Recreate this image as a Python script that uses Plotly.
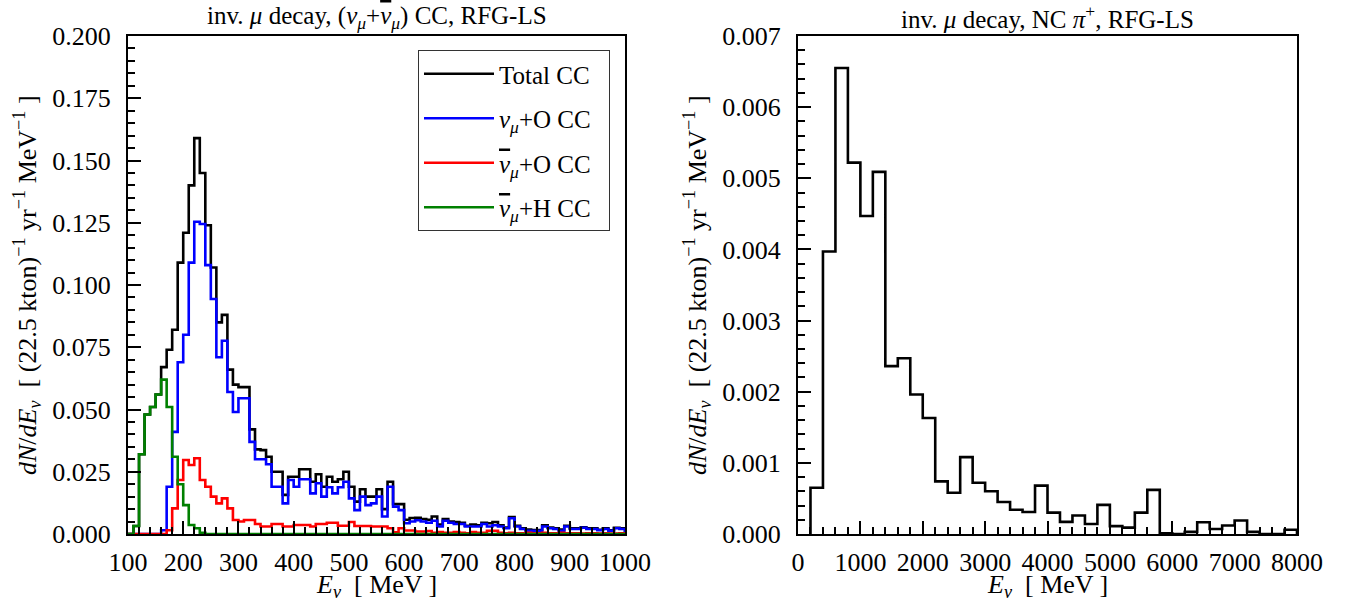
import plotly.graph_objects as go

# ---------------- data: left panel (10 MeV bins, 100-1000 MeV) ----------------
left_lo, left_hi, left_w = 100, 1000, 10

total_cc = [
    0, 0.0032, 0.032, 0.048, 0.051, 0.056, 0.067, 0.074, 0.082, 0.109,
    0.121, 0.140, 0.159, 0.145, 0.124, 0.107, 0.085, 0.088, 0.066, 0.060,
    0.059, 0.059, 0.042, 0.034, 0.0337, 0.031, 0.025, 0.025, 0.0157, 0.023,
    0.023, 0.026, 0.026, 0.021, 0.024, 0.019, 0.023, 0.021, 0.022, 0.025,
    0.019, 0.013, 0.018, 0.015, 0.015, 0.018, 0.010, 0.021, 0.012, 0.012,
    0.0057, 0.0064, 0.0065, 0.006, 0.0057, 0.007, 0.0038, 0.006, 0.005, 0.0048,
    0.0045, 0.0033, 0.0038, 0.0035, 0.0045, 0.0043, 0.0048, 0.0035, 0.0026, 0.0068,
    0.0033, 0.0023, 0.0018, 0.0016, 0.0016, 0.0035, 0.0026, 0.0023, 0.0018, 0.0033,
    0.0023, 0.0023, 0.0027, 0.0023, 0.0023, 0.0017, 0.0023, 0.0015, 0.0025, 0.0023,
]
numu_o = [
    0, 0, 0, 0, 0, 0, 0.0015, 0.019, 0.041, 0.069,
    0.080, 0.109, 0.1254, 0.1245, 0.108, 0.0944, 0.071, 0.0776, 0.057, 0.049,
    0.0545, 0.0545, 0.037, 0.030, 0.030, 0.028, 0.019, 0.019, 0.0123, 0.0217,
    0.019, 0.022, 0.022, 0.0163, 0.0204, 0.015, 0.0188, 0.0163, 0.0188, 0.021,
    0.0143, 0.0096, 0.015, 0.0116, 0.0123, 0.015, 0.007, 0.019, 0.011, 0.0096,
    0.0043, 0.005, 0.0055, 0.005, 0.0045, 0.0053, 0.003, 0.0053, 0.0045, 0.004,
    0.004, 0.003, 0.003, 0.003, 0.004, 0.003, 0.0035, 0.003, 0.0023, 0.0063,
    0.003, 0.002, 0.0013, 0.0013, 0.0013, 0.003, 0.0023, 0.002, 0.0013, 0.003,
    0.002, 0.002, 0.0025, 0.002, 0.002, 0.0015, 0.002, 0.0013, 0.0023, 0.002,
]
numubar_o = [
    0, 0, 0, 0, 0, 0, 0, 0.0015, 0.0103, 0.0217,
    0.0297, 0.0277, 0.0304, 0.0217, 0.019, 0.015, 0.0123, 0.0143, 0.0103, 0.0056,
    0.005, 0.0056, 0.0056, 0.004, 0.003, 0.003, 0.004, 0.004, 0.003, 0.003,
    0.0036, 0.0036, 0.0036, 0.003, 0.004, 0.004, 0.0045, 0.0045, 0.0033, 0.0033,
    0.0048, 0.0032, 0.0032, 0.0032, 0.003, 0.003, 0.003, 0.0023, 0.0007, 0.0023,
    0.0014, 0.0014, 0.001, 0.001, 0.0012, 0.0005, 0.0008, 0.0005, 0.0005, 0.0008,
    0.0005, 0.0003, 0.0008, 0.0005, 0.0005, 0.0013, 0.0013, 0.0005, 0.0003, 0.0005,
    0.0003, 0.0003, 0.0005, 0.0003, 0.0003, 0.0005, 0.0003, 0.0003, 0.0005, 0.0003,
    0.0003, 0.0003, 0.0002, 0.0003, 0.0003, 0.0002, 0.0003, 0.0002, 0.0002, 0.0003,
]
numubar_h = [
    0, 0.0032, 0.032, 0.048, 0.051, 0.056, 0.062, 0.051, 0.031, 0.020,
    0.0116, 0.0036, 0.0023, 0.0005, 0, 0, 0, 0, 0, 0,
] + [0] * 70

# ---------------- data: right panel (200 MeV bins, 200-8000 MeV) ----------------
right_lo, right_hi, right_w = 200, 8000, 200
nc_pip = [
    0.00065, 0.00397, 0.00655, 0.00522, 0.00447, 0.00509, 0.00236, 0.00247,
    0.00196, 0.00163, 0.00074, 0.00058, 0.00108, 0.00072, 0.00060, 0.00045,
    0.00034, 0.00031, 0.00068, 0.00030, 0.00017, 0.00026, 0.00014, 0.00041,
    0.00011, 0.00009, 0.00030, 0.00062, 0.00001, 0.0, 0.00003, 0.000165,
    0.00007, 0.00012, 0.00019, 0.00003, 0.0, 0.0, 0.00006,
]

left_xticks = list(range(100, 1001, 100))
left_yticks = [0.0, 0.025, 0.05, 0.075, 0.1, 0.125, 0.15, 0.175, 0.2]
right_xticks = list(range(0, 8001, 1000))
right_yticks = [0.0, 0.001, 0.002, 0.003, 0.004, 0.005, 0.006, 0.007]


def step_xy(lo, width, vals):
    n = len(vals)
    edges = [lo + i * width for i in range(n + 1)]
    xs = [edges[0]] + edges[:-1] + [edges[-1], edges[-1]]
    ys = [0] + list(vals) + [vals[-1], 0]
    return xs, ys


FONT = "Liberation Serif, Times New Roman, serif"
W, H = 1352, 612
# panel pixel boxes
L_x0, L_x1 = 128, 625
R_x0, R_x1 = 798, 1297
Y_top, Y_bot = 36, 534

NUBAR = '<span style="text-decoration:overline"><i>ν</i></span>'
PAD = "\u00a0\u00a0"

fig = go.Figure()

series = [
    ("Total CC" + PAD, total_cc, "black"),
    ("<i>ν</i><sub><i>μ</i></sub>+O CC" + PAD, numu_o, "#0000ff"),
    (NUBAR + "<sub><i>μ</i></sub>+O CC" + PAD, numubar_o, "#ff0000"),
    (NUBAR + "<sub><i>μ</i></sub>+H CC" + PAD, numubar_h, "#008000"),
]
for i, (name, vals, col) in enumerate(series):
    xs, ys = step_xy(left_lo, left_w, vals)
    fig.add_trace(go.Scatter(x=xs, y=ys, mode="lines", line=dict(color=col, width=2.6, shape="hv"),
                             name=name, legendgroup=f"g{i}", xaxis="x", yaxis="y"))

xs, ys = step_xy(right_lo, right_w, nc_pip)
fig.add_trace(go.Scatter(x=xs, y=ys, mode="lines", line=dict(color="black", width=2.6, shape="hv"),
                         showlegend=False, xaxis="x2", yaxis="y2"))

tickfont = dict(family=FONT, size=26, color="black")


def axis_common(domain, rng, tickvals, fmt, minor_dtick, anchor, standoff):
    return dict(
        domain=domain, range=rng, tickvals=tickvals, tickformat=fmt, automargin=False,
        ticks="inside", ticklen=13, tickwidth=2, tickcolor="black",
        showline=True, linecolor="black", linewidth=2, mirror=True,
        showgrid=False, zeroline=False, tickfont=tickfont, anchor=anchor,
        ticklabelstandoff=standoff,
        minor=dict(dtick=minor_dtick, ticks="inside", ticklen=7, tickwidth=1.5,
                   tickcolor="black", showgrid=False),
    )


xdomL = [L_x0 / W, L_x1 / W]
xdomR = [R_x0 / W, R_x1 / W]
ydom = [1 - Y_bot / H, 1 - Y_top / H]

fig.update_layout(
    width=W, height=H,
    margin=dict(l=0, r=0, t=0, b=0, autoexpand=False),
    paper_bgcolor="white", plot_bgcolor="white",
    font=dict(family=FONT, size=25, color="black"),
    xaxis=axis_common(xdomL, [left_lo, left_hi], left_xticks, "d", 20, "y", 4),
    yaxis=axis_common(ydom, [0, 0.2], left_yticks, ".3f", 0.005, "x", 10),
    xaxis2=axis_common(xdomR, [0, 8000], right_xticks, "d", 200, "y2", 4),
    yaxis2=axis_common(ydom, [0, 0.007], right_yticks, ".3f", 0.0002, "x2", 10),
    legend=dict(x=610 / W, y=1 - 50 / H, xanchor="right", yanchor="top",
                bordercolor="#333", borderwidth=1, bgcolor="white",
                font=dict(family=FONT, size=25, color="black"),
                tracegroupgap=9, itemwidth=70),
    showlegend=True,
)
fig.layout.xaxis.minor.tick0 = 100
fig.layout.yaxis.minor.tick0 = 0
fig.layout.xaxis2.minor.tick0 = 0
fig.layout.yaxis2.minor.tick0 = 0

ylab = "<i>dN</i>/<i>dE</i><sub><i>ν</i></sub>  [ (22.5 kton)<sup>−1</sup> yr<sup>−1</sup> MeV<sup>−1</sup> ]"
xlab = "<i>E</i><sub><i>ν</i></sub>  [ MeV ]"
annos = [
    dict(text="inv. <i>μ</i> decay, (<i>ν</i><sub><i>μ</i></sub>+" + NUBAR + "<sub><i>μ</i></sub>) CC, RFG-LS",
         x=(L_x0 + L_x1) / 2 / W, y=1 - 17 / H, size=25),
    dict(text="inv. <i>μ</i> decay, NC <i>π</i><sup>+</sup>, RFG-LS",
         x=(R_x0 + R_x1) / 2 / W, y=1 - 17 / H, size=25),
    dict(text=xlab, x=(L_x0 + L_x1) / 2 / W, y=1 - 586 / H, size=26),
    dict(text=xlab, x=(R_x0 + R_x1) / 2 / W, y=1 - 586 / H, size=26),
]
for a in annos:
    fig.add_annotation(text=a["text"], x=a["x"], y=a["y"], xref="paper", yref="paper",
                       showarrow=False, xanchor="center", yanchor="middle",
                       font=dict(family=FONT, size=a["size"], color="black"))
for xc in (27, 697):
    fig.add_annotation(text=ylab, x=xc / W, y=1 - 285 / H, xref="paper", yref="paper",
                       showarrow=False, textangle=-90, xanchor="center", yanchor="middle",
                       font=dict(family=FONT, size=26, color="black"))

fig.write_html("out.html", config={"displayModeBar": False},
               post_script="document.body.style.margin='0px';")
